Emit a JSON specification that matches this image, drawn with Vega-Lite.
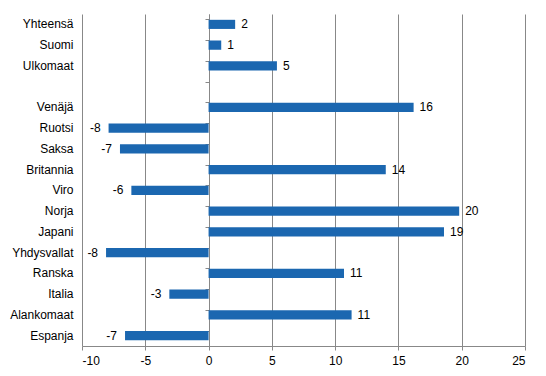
{
  "$schema": "https://vega.github.io/schema/vega-lite/v6.json",
  "width": 443,
  "height": 332,
  "autosize": "none",
  "padding": {"left": 82, "top": 14, "right": 21, "bottom": 30},
  "background": "white",
  "config": {
    "view": {"stroke": null},
    "font": "Liberation Sans",
    "axis": {"labelFont": "Liberation Sans", "labelFontSize": 12, "labelColor": "black"}
  },
  "data": {
    "values": [
      {"maa": "Yhteensä", "arvo": 2.1},
      {"maa": "Suomi", "arvo": 1.0},
      {"maa": "Ulkomaat", "arvo": 5.4},
      {"maa": "Venäjä", "arvo": 16.2},
      {"maa": "Ruotsi", "arvo": -7.9},
      {"maa": "Saksa", "arvo": -7.0},
      {"maa": "Britannia", "arvo": 14.0},
      {"maa": "Viro", "arvo": -6.1},
      {"maa": "Norja", "arvo": 19.8},
      {"maa": "Japani", "arvo": 18.6},
      {"maa": "Yhdysvallat", "arvo": -8.1},
      {"maa": "Ranska", "arvo": 10.7},
      {"maa": "Italia", "arvo": -3.1},
      {"maa": "Alankomaat", "arvo": 11.3},
      {"maa": "Espanja", "arvo": -6.6}
    ]
  },
  "transform": [
    {"calculate": "replace(format(datum.arvo, '.0f'), '\u2212', '-')", "as": "lbl"}
  ],
  "encoding": {
    "y": {
      "field": "maa",
      "type": "nominal",
      "scale": {
        "domain": ["Yhteensä", "Suomi", "Ulkomaat", " ", "Venäjä", "Ruotsi", "Saksa", "Britannia", "Viro", "Norja", "Japani", "Yhdysvallat", "Ranska", "Italia", "Alankomaat", "Espanja"],
        "paddingInner": 0.56,
        "paddingOuter": 0.28
      },
      "title": null
    },
    "x": {
      "field": "arvo",
      "type": "quantitative",
      "scale": {"domain": [-10, 25], "nice": false, "zero": false},
      "title": null
    }
  },
  "layer": [
    {
      "mark": {"type": "bar", "color": "#1b67b0"},
      "encoding": {
        "y": {
          "field": "maa",
          "type": "nominal",
          "axis": {"domain": false, "ticks": false, "labelPadding": 9, "grid": false}
        },
        "x": {
          "field": "arvo",
          "type": "quantitative",
          "axis": {
            "values": [-10, -5, 0, 5, 10, 15, 20, 25],
            "labelExpr": "replace(datum.label, '\u2212', '-')",
            "grid": true,
            "gridColor": "#888888",
            "gridOpacity": 1,
            "domainColor": "#888888",
            "tickColor": "#888888",
            "tickSize": 4,
            "labelPadding": 5
          }
        }
      }
    },
    {
      "transform": [{"filter": "datum.arvo >= 0"}],
      "mark": {"type": "text", "align": "left", "dx": 6, "fontSize": 12, "color": "black"},
      "encoding": {
        "y": {
          "field": "maa",
          "type": "nominal",
          "axis": {
            "orient": "left",
            "offset": -127,
            "labels": false,
            "domain": true,
            "domainColor": "#888888",
            "ticks": true,
            "tickColor": "#888888",
            "tickSize": 4,
            "bandPosition": 0,
            "grid": false
          }
        },
        "text": {"field": "lbl", "type": "nominal"}
      }
    },
    {
      "transform": [{"filter": "datum.arvo < 0"}],
      "mark": {"type": "text", "align": "right", "dx": -8, "fontSize": 12, "color": "black"},
      "encoding": {
        "y": {"field": "maa", "type": "nominal", "axis": null},
        "text": {"field": "lbl", "type": "nominal"}
      }
    }
  ],
  "resolve": {"axis": {"y": "independent"}}
}
